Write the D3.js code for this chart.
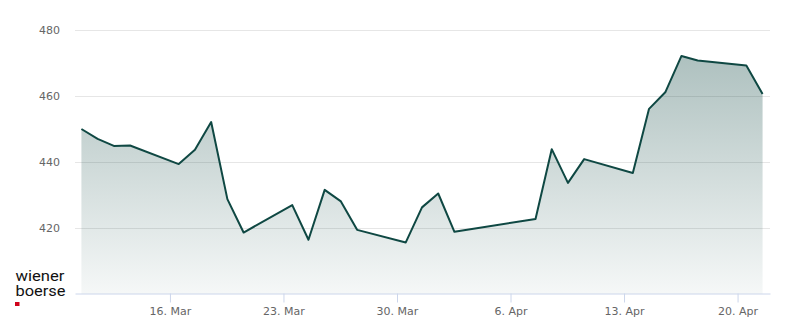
<!DOCTYPE html>
<html>
<head>
<meta charset="utf-8">
<script src="https://cdn.jsdelivr.net/npm/d3@7"></script>
<style>
  body { margin: 0; background: #fff; }
  svg { display: block; font-family: "DejaVu Sans", sans-serif; }
</style>
</head>
<body>
<svg id="chart"></svg>
<script>
// trading days (Vienna, 2026) and closing prices
const dates = [
  "2026-03-10", "2026-03-11", "2026-03-12", "2026-03-13",
  "2026-03-16", "2026-03-17", "2026-03-18", "2026-03-19", "2026-03-20",
  "2026-03-23", "2026-03-24", "2026-03-25", "2026-03-26", "2026-03-27",
  "2026-03-30", "2026-03-31", "2026-04-01", "2026-04-02",
  "2026-04-07", "2026-04-08", "2026-04-09", "2026-04-10",
  "2026-04-13", "2026-04-14", "2026-04-15", "2026-04-16", "2026-04-17",
  "2026-04-20", "2026-04-21"
]
const prices = [
  449.9, 446.9, 444.8, 444.9,
  439.3, 443.6, 452.0, 428.7, 418.6,
  426.9, 416.4, 431.5, 428.0, 419.4,
  415.6, 426.2, 430.4, 418.8,
  422.7, 443.8, 433.6, 440.8,
  436.6, 456.0, 461.0, 472.0, 470.6,
  469.1, 460.5
]
const yTicks = [420, 440, 460, 480]
const xTickDates = ["2026-03-16", "2026-03-23", "2026-03-30", "2026-04-06", "2026-04-13", "2026-04-20"]

const width = 800, height = 324
const margin = { top: 29.5, right: 30, bottom: 29.5, left: 75 }

const parseDay = d3.timeParse("%Y-%m-%d %H:%M")
// points are stamped in the early afternoon
const data = dates.map((d, i) => ({ date: parseDay(d + " 13:00"), value: prices[i] }))

const svg = d3.select("#chart").attr("width", width).attr("height", height)

const x = d3.scaleTime()
  .domain([parseDay("2026-03-10 03:30"), parseDay("2026-04-22 00:00")])
  .range([margin.left, width - margin.right])

const y = d3.scaleLinear()
  .domain([400, 480])
  .range([height - margin.bottom - 0.5, margin.top])

// gradient under the line
const defs = svg.append("defs")
const grad = defs.append("linearGradient")
  .attr("id", "fillGrad")
  .attr("gradientUnits", "userSpaceOnUse")
  .attr("x1", 0).attr("x2", 0)
  .attr("y1", y(480)).attr("y2", y(400))
grad.append("stop").attr("offset", "0%").attr("stop-color", "#0e4641").attr("stop-opacity", 0.37)
grad.append("stop").attr("offset", "100%").attr("stop-color", "#0e4641").attr("stop-opacity", 0.04)

// horizontal grid + y labels
const yAxis = svg.append("g")
yAxis.selectAll("line")
  .data(yTicks)
  .join("line")
  .attr("x1", margin.left).attr("x2", width - margin.right)
  .attr("y1", d => Math.round(y(d)) + 0.5).attr("y2", d => Math.round(y(d)) + 0.5)
  .attr("stroke", "#e6e6e6")
yAxis.selectAll("text")
  .data(yTicks)
  .join("text")
  .attr("x", 60)
  .attr("y", d => y(d) + 4)
  .attr("text-anchor", "end")
  .attr("fill", "#666666")
  .style("font-size", "11px")
  .text(d => d)

// area and line
const area = d3.area()
  .x(d => x(d.date))
  .y0(y(400))
  .y1(d => y(d.value))

svg.append("path")
  .datum(data)
  .attr("d", area)
  .attr("fill", "url(#fillGrad)")

const line = d3.line()
  .x(d => x(d.date))
  .y(d => y(d.value))

svg.append("path")
  .datum(data)
  .attr("d", line)
  .attr("fill", "none")
  .attr("stroke", "#0f4843")
  .attr("stroke-width", 2)
  .attr("stroke-linejoin", "round")

// x axis
const fmt = d3.timeFormat("%-d. %b")
const xAxis = d3.axisBottom(x)
  .tickValues(xTickDates.map(d => parseDay(d + " 00:00")))
  .tickFormat(fmt)
  .tickSizeInner(9)
  .tickSizeOuter(0)
  .tickPadding(5)

const gx = svg.append("g")
  .attr("transform", `translate(0 ${Math.round(y(400)) - 0.5})`)
  .call(xAxis)
gx.select(".domain").attr("stroke", "#ccd6eb")
gx.selectAll(".tick line").attr("stroke", "#ccd6eb")
gx.selectAll(".tick text")
  .attr("fill", "#666666")
  .style("font-size", "11px")
  .style("font-family", "DejaVu Sans, sans-serif")
  .attr("dy", "0.71em")

// logo
const logo = svg.append("g")
  .style("font-family", "Roboto, sans-serif")
  .style("font-size", "14px")
  .attr("fill", "#111")
logo.append("text")
  .attr("x", 15.5).attr("y", 281)
  .attr("textLength", 49).attr("lengthAdjust", "spacingAndGlyphs")
  .text("wiener")
logo.append("text")
  .attr("x", 15.5).attr("y", 296)
  .attr("textLength", 50).attr("lengthAdjust", "spacingAndGlyphs")
  .text("boerse")
logo.append("rect")
  .attr("x", 15).attr("y", 302)
  .attr("width", 4.5).attr("height", 4)
  .attr("fill", "#d0021b")
</script>
</body>
</html>
